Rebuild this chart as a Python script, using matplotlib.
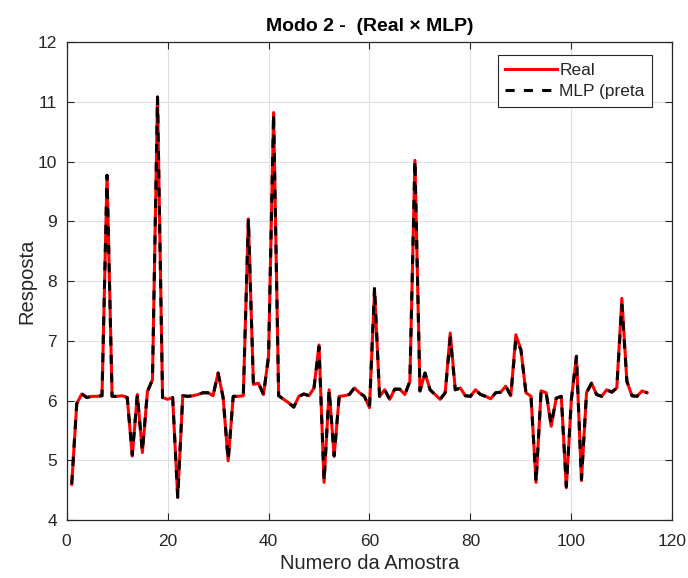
import numpy as np
import matplotlib
matplotlib.use('Agg')
import matplotlib.pyplot as plt

# Sample index and responses
amostra = list(range(1, 116))

real = [4.60, 5.95, 6.11, 6.05, 6.07, 6.07, 6.08, 9.77, 6.07, 6.07,
        6.08, 6.05, 5.07, 6.10, 5.13, 6.15, 6.35, 11.08, 6.05, 6.02,
        6.05, 4.38, 6.08, 6.07, 6.08, 6.10, 6.13, 6.13, 6.08, 6.46,
        6.05, 4.99, 6.07, 6.07, 6.08, 9.04, 6.27, 6.29, 6.10, 6.74,
        10.82, 6.08, 6.02, 5.96, 5.89, 6.07, 6.11, 6.08, 6.21, 6.93,
        4.63, 6.18, 5.07, 6.07, 6.08, 6.10, 6.21, 6.13, 6.07, 5.88,
        7.85, 6.07, 6.18, 6.02, 6.19, 6.19, 6.10, 6.32, 10.02, 6.16,
        6.46, 6.18, 6.10, 6.02, 6.13, 7.13, 6.18, 6.21, 6.08, 6.07,
        6.18, 6.10, 6.07, 6.03, 6.13, 6.14, 6.24, 6.08, 7.10, 6.85,
        6.13, 6.07, 4.63, 6.16, 6.13, 5.57, 6.04, 6.07, 4.54, 6.02,
        6.74, 4.66, 6.13, 6.29, 6.10, 6.07, 6.18, 6.14, 6.21, 7.71,
        6.32, 6.08, 6.07, 6.16, 6.13]

mlp = [4.60, 5.95, 6.11, 6.05, 6.07, 6.07, 6.08, 9.77, 6.07, 6.07,
       6.08, 6.05, 5.09, 6.10, 5.15, 6.15, 6.35, 11.08, 6.05, 6.02,
       6.05, 4.38, 6.08, 6.07, 6.08, 6.10, 6.13, 6.13, 6.08, 6.46,
       6.05, 5.00, 6.07, 6.07, 6.08, 9.04, 6.27, 6.29, 6.10, 6.74,
       10.80, 6.08, 6.02, 5.96, 5.89, 6.07, 6.11, 6.08, 6.21, 6.90,
       4.65, 6.18, 5.07, 6.07, 6.08, 6.10, 6.21, 6.13, 6.07, 5.88,
       7.90, 6.07, 6.18, 6.02, 6.19, 6.19, 6.10, 6.32, 10.02, 6.16,
       6.46, 6.18, 6.10, 6.02, 6.13, 7.05, 6.18, 6.21, 6.08, 6.07,
       6.18, 6.10, 6.07, 6.03, 6.13, 6.14, 6.24, 6.08, 7.02, 6.85,
       6.13, 6.07, 4.63, 6.16, 6.13, 5.60, 6.04, 6.07, 4.56, 6.02,
       6.74, 4.68, 6.13, 6.29, 6.10, 6.07, 6.18, 6.14, 6.21, 7.60,
       6.32, 6.08, 6.07, 6.16, 6.13]

plt.rcParams['font.family'] = ['Liberation Sans', 'DejaVu Sans']
txt = (0.15, 0.15, 0.15)

fig = plt.figure(figsize=(6.88, 5.78), dpi=100)
ax = fig.add_axes([0.0969, 0.1003, 0.8803, 0.827])

ax.plot(amostra, real, color='red', lw=2.2, label='Real')
ax.plot(amostra, mlp, color='black', lw=2.2, linestyle=(0, (3, 3)),
        label='MLP (preta')

ax.set_xlim(0, 120)
ax.set_ylim(4, 12)
ax.set_xticks(np.arange(0, 121, 20))
ax.set_yticks(np.arange(4, 13, 1))
ax.grid(True, color=(0.88, 0.88, 0.88), lw=0.8)
ax.set_axisbelow(True)

for s in ax.spines.values():
    s.set_color(txt)
    s.set_linewidth(0.9)
ax.tick_params(direction='in', length=5, width=0.8, color=txt,
               labelcolor=txt, labelsize=12.5, top=True, right=True)
ax.tick_params(axis='x', pad=10)
ax.tick_params(axis='y', pad=7)

ax.set_title('Modo 2 -  (Real × MLP)', fontsize=14, fontweight='bold',
             color='black', pad=8)
ax.set_xlabel('Numero da Amostra', fontsize=14.5, color=txt, labelpad=4)
ax.set_ylabel('Resposta', fontsize=14.5, color=txt, labelpad=1)

leg = ax.legend(loc='upper right', bbox_to_anchor=(0.967, 0.973),
                fontsize=12.5, handlelength=3.0, handletextpad=0.1,
                borderpad=0.45, labelspacing=0.35, borderaxespad=0,
                fancybox=False, framealpha=1)
leg.get_frame().set_edgecolor(txt)
leg.get_frame().set_linewidth(0.8)
for t in leg.get_texts():
    t.set_color(txt)

fig.savefig('out.png', dpi=100)
